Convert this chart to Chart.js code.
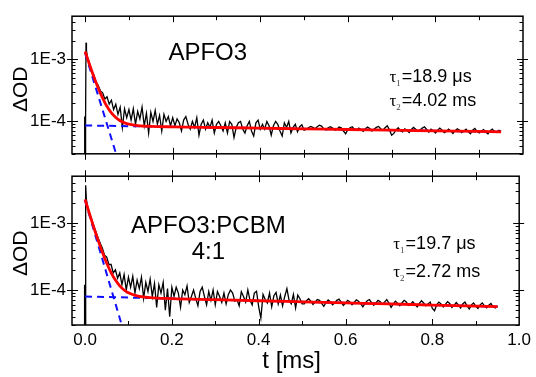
<!DOCTYPE html>
<html>
<head>
<meta charset="utf-8">
<script src="https://cdn.jsdelivr.net/npm/chart.js@4.4.1/dist/chart.umd.min.js"></script>
<style>
  html, body { margin: 0; padding: 0; background: #fff; }
  #wrap { position: relative; width: 536px; height: 377px; overflow: hidden; }
  canvas { position: absolute; left: 0; }
  #topChart { top: 0; }
  #bottomChart { top: 160px; }
</style>
</head>
<body>
<div id="wrap">
  <canvas id="topChart" width="536" height="170"></canvas>
  <canvas id="bottomChart" width="536" height="217"></canvas>
</div>
<script>
// ---- data (OD values in units of 1E-5, time in ms) ----
const UNIT = 1e-5;
const SAMPLE_START = 0.005;
const SAMPLE_STEP = 0.005;

// trigger spike around t = 0
const headTime = [-0.002, -0.001, 0, 0.001, 0.002, 0.003];
const topHeadOD = [1, 12, 1, 11, 187, 140];
const bottomHeadOD = [1, 12, 1, 11, 365, 230];

// measured transients, t = 0.005 ... 0.950 ms
const topOD = [
  112, 86, 64, 56, 43, 38, 31, 29, 23, 25, 19, 22, 15.5, 19, 13, 17, 8, 16, 11.5, 15.5,
  10.5, 16, 9, 14.5, 11, 17, 8.5, 13.5, 6.5, 14, 10, 15, 9, 12.5, 7, 13, 10, 12, 8.5, 11.5,
  8.5, 11, 9.5, 7, 10.5, 12, 9, 7.5, 10, 8, 11.5, 6, 9, 10.5, 7.5, 9.5, 8, 10.5, 6.5, 9,
  10, 8.5, 7, 9.5, 6.5, 10, 9, 5.5, 8, 9.5, 10, 7.5, 6.5, 8.5, 10, 7, 5.8, 9.5, 10.5, 7.5,
  9, 7.5, 10, 8.5, 6, 8.5, 10, 9, 7, 5.8, 9.5, 8, 10, 6.5, 8, 9, 6.8, 8.2, 8.8, 7.2,
  7.4, 7.9, 8.3, 8.0, 7.6, 8.2, 8.7, 8.4, 7.6, 7.3, 7.9, 8.2, 7.8, 7.2, 7.5, 8.1, 7.9, 7.0, 6.3, 7.4,
  7.9, 8.2, 7.5, 7.2, 7.8, 7.4, 6.9, 7.6, 8.1, 7.7, 7.0, 7.5, 8.0, 8.3, 7.6, 7.2, 7.9, 8.5, 7.3, 6.0,
  6.4, 7.3, 7.9, 7.1, 6.8, 7.6, 7.2, 6.6, 7.4, 8.0, 7.5, 6.9, 7.3, 7.8, 8.2, 7.4, 6.7, 7.5, 7.1, 6.5,
  7.2, 7.8, 7.3, 6.6, 6.9, 7.5, 7.0, 6.4, 7.1, 7.6, 7.2, 6.6, 7.0, 7.5, 6.8, 6.3, 7.2, 7.7, 6.9, 6.5,
  7.0, 7.4, 6.7, 6.3, 7.1, 7.5, 6.8, 6.6, 7.2, 6.9
];
const bottomOD = [
  190, 142, 116, 92, 74, 60, 50, 42, 33, 31, 24, 24, 18, 20, 15, 18, 12, 17, 10, 15.5,
  11, 16, 9, 14, 10.5, 15.5, 7.5, 13, 9.5, 14.5, 8, 12.5, 5.5, 12, 9, 13, 5, 10.5, 4, 11,
  8, 11, 9, 5.5, 10, 8.5, 11.5, 6.5, 8, 10, 7.5, 5.8, 9.5, 11, 8, 6, 9.5, 7, 10, 6,
  9.5, 8, 6.5, 9, 6.2, 8.5, 10, 9, 6.8, 7.2, 5.8, 9.4, 8, 6.6, 10, 7, 6, 9, 9.6, 5.6,
  3.8, 8.6, 7.2, 6.4, 9, 5.6, 8.2, 9.2, 6.2, 8.4, 5.8, 8, 10.5, 7, 6.2, 8.6, 5.4, 8.4, 7.4, 6.2,
  6.2, 6.9, 7.4, 6.8, 6.1, 6.6, 7.2, 7.0, 6.3, 5.7, 6.5, 7.1, 6.7, 6.0, 6.4, 7.0, 7.3, 6.6, 5.9, 6.4,
  7.0, 6.6, 6.0, 6.5, 7.1, 6.8, 6.2, 5.6, 6.3, 6.9, 7.2, 6.5, 5.9, 6.4, 7.0, 6.7, 6.1, 6.6, 7.2, 6.4,
  5.5, 6.2, 6.8, 6.3, 5.8, 6.4, 7.0, 6.6, 5.9, 6.2, 6.7, 6.1, 5.6, 6.3, 6.9, 6.4, 5.8, 6.2, 6.6, 5.3,
  4.9, 6.0, 6.6, 6.2, 5.6, 6.1, 6.7, 6.3, 5.5, 5.9, 6.5, 6.0, 5.4, 6.2, 6.6, 5.8, 5.2, 6.0, 6.4, 5.7,
  5.3, 6.0, 6.4, 5.8, 5.4, 5.9, 6.3, 5.6, 5.4, 5.8
];

// bi-exponential fit (red)
const fitTime = [0, 0.005, 0.01, 0.015, 0.02, 0.025, 0.03, 0.035, 0.04, 0.045, 0.05, 0.06, 0.07,
  0.08, 0.09, 0.1, 0.12, 0.15, 0.2, 0.3, 0.4, 0.5, 0.6, 0.7, 0.8, 0.95];
const topFit = [134.6, 105.3, 82.8, 65.6, 52.3, 42.2, 34.3, 28.3, 23.7, 20.1, 17.4, 13.7, 11.55,
  10.26, 9.49, 9.02, 8.57, 8.33, 8.18, 7.98, 7.79, 7.59, 7.41, 7.22, 7.05, 6.79];
const bottomFit = [226, 177.1, 139.2, 109.7, 86.9, 69.2, 55.5, 44.8, 36.5, 30.1, 25.1, 18.2, 14.05,
  11.5, 10.0, 9.08, 8.15, 7.68, 7.43, 7.17, 6.91, 6.66, 6.42, 6.19, 5.96, 5.64];

// single components (blue dashed)
const slowTime = [0, 0.95];
const topSlow = [8.6, 6.79];
const bottomSlow = [8.0, 5.64];
const topFastTime = [0, 0.072];
const topFast = [126, 2.8];
const bottomFastTime = [0, 0.086];
const bottomFast = [218, 2.8];

// axes
const X_MIN = -0.03, X_MAX = 1.0;
const Y_MIN = 3e-5, Y_MAX = 5e-3;
const xLabelTicks = [0, 0.2, 0.4, 0.6, 0.8, 1.0];
const xTickMarks = [0, 0.1, 0.2, 0.3, 0.4, 0.5, 0.6, 0.7, 0.8, 0.9];
const yLabelTicks = [1e-4, 1e-3];
const yMinorTicks = [3e-5, 4e-5, 5e-5, 6e-5, 7e-5, 8e-5, 9e-5,
  2e-4, 3e-4, 4e-4, 5e-4, 6e-4, 7e-4, 8e-4, 9e-4, 2e-3, 3e-3, 4e-3, 5e-3];

const FONT = "'Liberation Sans', Arial, sans-serif";

function series(times, values) {
  return times.map((t, i) => ({ x: t, y: values[i] * UNIT }));
}
function sampled(head, values) {
  const pts = series(headTime, head);
  values.forEach((v, i) => pts.push({ x: +(SAMPLE_START + i * SAMPLE_STEP).toFixed(3), y: v * UNIT }));
  return pts;
}

// frame + inward ticks, Origin style
const framePlugin = {
  id: 'frame',
  afterDatasetsDraw(chart, args, opts) {
    const { ctx, chartArea: a, scales: { x, y } } = chart;
    ctx.save();
    ctx.strokeStyle = '#000';
    ctx.lineWidth = 1;
    ctx.beginPath();
    xTickMarks.forEach(v => {
      const px = Math.round(x.getPixelForValue(v)) + 0.5;
      const len = xLabelTicks.some(m => Math.abs(m - v) < 1e-9) ? 6 : 4;
      ctx.moveTo(px, a.top - (opts.crossTop ? len : 0)); ctx.lineTo(px, a.top + len);
      ctx.moveTo(px, a.bottom + (opts.crossBottom ? len : 0)); ctx.lineTo(px, a.bottom - len);
    });
    yLabelTicks.forEach(v => {
      const py = Math.round(y.getPixelForValue(v)) + 0.5;
      ctx.moveTo(a.left - 5, py); ctx.lineTo(a.left + 6, py);
      ctx.moveTo(a.right + 5, py); ctx.lineTo(a.right - 6, py);
    });
    yMinorTicks.forEach(v => {
      const py = Math.round(y.getPixelForValue(v)) + 0.5;
      ctx.moveTo(a.left, py); ctx.lineTo(a.left + 3.5, py);
      ctx.moveTo(a.right, py); ctx.lineTo(a.right - 3.5, py);
    });
    ctx.stroke();
    ctx.lineWidth = 1.5;
    ctx.strokeRect(a.left, a.top, a.right - a.left, a.bottom - a.top);
    ctx.restore();
  }
};

// panel labels
const textPlugin = {
  id: 'panelText',
  afterDraw(chart, args, opts) {
    const { ctx, chartArea: a, scales: { x, y } } = chart;
    ctx.save();
    ctx.fillStyle = '#000';
    ctx.textBaseline = 'alphabetic';

    (opts.titles || []).forEach(it => {
      ctx.font = `24px ${FONT}`;
      ctx.textAlign = 'center';
      ctx.fillText(it.text, x.getPixelForValue(it.t), y.getPixelForValue(it.v));
    });

    (opts.taus || []).forEach(it => {
      let px = x.getPixelForValue(it.t);
      const py = y.getPixelForValue(it.v);
      ctx.textAlign = 'left';
      ctx.font = `17px 'Liberation Serif', serif`;
      ctx.fillText('\u03C4', px, py);
      px += ctx.measureText('\u03C4').width;
      ctx.font = `9px 'Liberation Serif', serif`;
      ctx.fillStyle = '#444';
      ctx.fillText(it.sub, px, py + 4);
      px += ctx.measureText(it.sub).width + 1;
      ctx.fillStyle = '#000';
      ctx.font = `18px ${FONT}`;
      ctx.fillText(it.rest, px, py);
    });

    // y axis title
    ctx.save();
    ctx.font = `21px ${FONT}`;
    ctx.textAlign = 'center';
    ctx.translate(27, y.getPixelForValue(opts.yTitleAt));
    ctx.rotate(-Math.PI / 2);
    ctx.fillText('\u0394OD', 0, 0);
    ctx.restore();

    if (opts.xTitle) {
      ctx.font = `24px ${FONT}`;
      ctx.textAlign = 'center';
      ctx.fillText(opts.xTitle, x.getPixelForValue(0.476), a.bottom + 43);
    }
    ctx.restore();
  }
};

function makePanel(id, data, fit, slow, fastTime, fast, showX, padding, text, frame) {
  return new Chart(document.getElementById(id), {
    type: 'line',
    data: {
      datasets: [
        { data: series(fitTime, fit), borderColor: '#ff0000', borderWidth: 2.8,
          cubicInterpolationMode: 'monotone' },
        { data: series(slowTime, slow), borderColor: '#1010ff', borderWidth: 2, borderDash: [7, 5] },
        { data: series(fastTime, fast), borderColor: '#1010ff', borderWidth: 2, borderDash: [7, 5] },
        { data: data, borderColor: '#000', borderWidth: 1.3 }
      ]
    },
    options: {
      responsive: false,
      animation: false,
      devicePixelRatio: 1,
      layout: { padding: padding },
      elements: { point: { radius: 0 }, line: { tension: 0 } },
      plugins: {
        legend: { display: false },
        tooltip: { enabled: false },
        frame: frame,
        panelText: text
      },
      scales: {
        x: {
          type: 'linear', min: X_MIN, max: X_MAX, display: showX,
          grid: { display: false, drawTicks: false },
          border: { display: false },
          afterBuildTicks: s => { s.ticks = xLabelTicks.map(v => ({ value: v })); },
          afterFit: s => { if (showX) s.height = 52; },
          ticks: { color: '#000', padding: 5, font: { family: FONT, size: 17 },
            callback: v => Number(v).toFixed(1) }
        },
        y: {
          type: 'logarithmic', min: Y_MIN, max: Y_MAX,
          grid: { display: false, drawTicks: false },
          border: { display: false },
          afterBuildTicks: s => { s.ticks = yLabelTicks.map(v => ({ value: v })); },
          afterFit: s => { s.width = 72; },
          ticks: { color: '#000', padding: 6, font: { family: FONT, size: 17 },
            callback: v => '1E' + Math.round(Math.log10(v)) }
        }
      }
    },
    plugins: [framePlugin, textPlugin]
  });
}

makePanel('topChart', sampled(topHeadOD, topOD), topFit, topSlow, topFastTime, topFast, false,
  { left: 0, right: 13, top: 12, bottom: 2 },
  {
    titles: [{ text: 'APFO3', t: 0.28, v: 9.7e-4 }],
    taus: [{ sub: '1', rest: '=18.9 \u03BCs', t: 0.695, v: 4.4e-4 },
           { sub: '2', rest: '=4.02 ms', t: 0.695, v: 1.77e-4 }],
    yTitleAt: 3.3e-4
  },
  { crossTop: false, crossBottom: true });

makePanel('bottomChart', sampled(bottomHeadOD, bottomOD), bottomFit, bottomSlow, bottomFastTime, bottomFast, true,
  { left: 0, right: 13, top: 8, bottom: 0 },
  {
    titles: [{ text: 'APFO3:PCBM', t: 0.284, v: 7.0e-4 },
             { text: '4:1', t: 0.284, v: 2.92e-4 }],
    taus: [{ sub: '1', rest: '=19.7 \u03BCs', t: 0.71, v: 4.06e-4 },
           { sub: '2', rest: '=2.72 ms', t: 0.71, v: 1.57e-4 }],
    yTitleAt: 3.53e-4,
    xTitle: 't [ms]'
  },
  { crossTop: true, crossBottom: false });
</script>
</body>
</html>
